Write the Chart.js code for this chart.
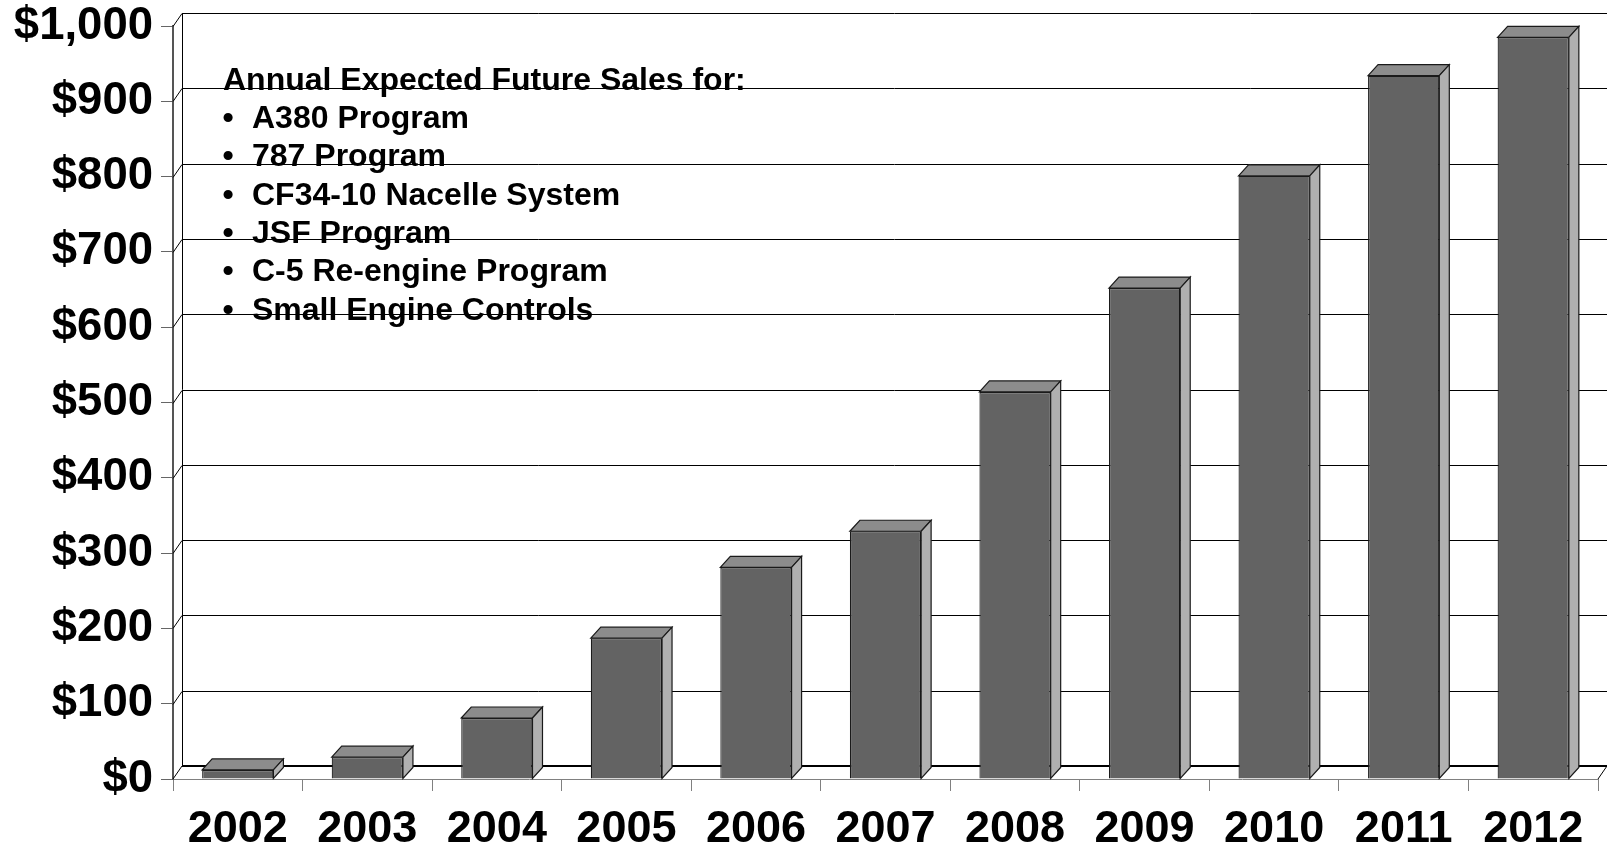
<!DOCTYPE html>
<html>
<head>
<meta charset="utf-8">
<script src="https://cdn.jsdelivr.net/npm/chart.js@4"></script>
<style>
  html, body { margin: 0; padding: 0; background: #fff; }
  canvas { display: block; }
</style>
</head>
<body>
<canvas id="salesChart" width="1607" height="845"></canvas>
<script>
// data ($ millions)
const years = ['2002', '2003', '2004', '2005', '2006', '2007', '2008', '2009', '2010', '2011', '2012'];
const sales = [12, 29, 81, 187, 281, 329, 514, 652, 801, 934, 985];
const noteTitle = 'Annual Expected Future Sales for:';
const noteItems = ['A380 Program', '787 Program', 'CF34-10 Nacelle System', 'JSF Program', 'C-5 Re-engine Program', 'Small Engine Controls'];

const FONT = '"Liberation Sans", Arial, sans-serif';
// depth of the back wall and of the bars (fake 3D)
const WALL_DX = 9, WALL_DY = 13;
const BAR_DX = 10, BAR_DY = 11;

// back wall, gridlines and floor
const wallPlugin = {
  id: 'wall',
  beforeDatasetsDraw(chart) {
    const { ctx, chartArea: a, scales: { y } } = chart;
    ctx.save();
    ctx.strokeStyle = '#000';
    ctx.lineWidth = 1;
    y.ticks.forEach(t => {
      if (t.value === 0) return;
      const py = Math.round(y.getPixelForValue(t.value)) + 0.5;
      ctx.beginPath();
      ctx.moveTo(a.left, py);
      ctx.lineTo(a.left + WALL_DX, py - WALL_DY);
      ctx.lineTo(chart.width, py - WALL_DY);
      ctx.stroke();
    });
    // left edge of the back wall
    const top = Math.round(y.getPixelForValue(1000)) - WALL_DY;
    const bottom = Math.round(y.getPixelForValue(0));
    ctx.beginPath();
    ctx.moveTo(a.left + WALL_DX + 0.5, top);
    ctx.lineTo(a.left + WALL_DX + 0.5, bottom - WALL_DY);
    ctx.stroke();
    // floor
    ctx.lineWidth = 2;
    ctx.beginPath();
    ctx.moveTo(a.left + WALL_DX, bottom - WALL_DY);
    ctx.lineTo(chart.width, bottom - WALL_DY);
    ctx.stroke();
    ctx.lineWidth = 1;
    ctx.beginPath();
    ctx.moveTo(a.left, bottom);
    ctx.lineTo(a.left + WALL_DX, bottom - WALL_DY);
    ctx.moveTo(a.right, bottom);
    ctx.lineTo(a.right + WALL_DX, bottom - WALL_DY);
    ctx.stroke();
    ctx.restore();
  }
};

// top and side faces of the bars
const bar3dPlugin = {
  id: 'bar3d',
  afterDatasetsDraw(chart) {
    const ctx = chart.ctx;
    ctx.save();
    ctx.strokeStyle = '#1a1a1a';
    ctx.lineWidth = 1.2;
    chart.getDatasetMeta(0).data.forEach(bar => {
      const l = bar.x - bar.width / 2, r = bar.x + bar.width / 2;
      ctx.fillStyle = '#8c8c8c';
      ctx.beginPath();
      ctx.moveTo(l, bar.y);
      ctx.lineTo(l + BAR_DX, bar.y - BAR_DY);
      ctx.lineTo(r + BAR_DX, bar.y - BAR_DY);
      ctx.lineTo(r, bar.y);
      ctx.closePath();
      ctx.fill();
      ctx.stroke();
      ctx.fillStyle = '#b0b0b0';
      ctx.beginPath();
      ctx.moveTo(r, bar.y);
      ctx.lineTo(r + BAR_DX, bar.y - BAR_DY);
      ctx.lineTo(r + BAR_DX, bar.base - BAR_DY);
      ctx.lineTo(r, bar.base);
      ctx.closePath();
      ctx.fill();
      ctx.stroke();
    });
    ctx.restore();
  }
};

// text box in the upper left
const notePlugin = {
  id: 'note',
  afterDraw(chart) {
    const ctx = chart.ctx;
    ctx.save();
    ctx.fillStyle = '#000';
    ctx.font = 'bold 32px ' + FONT;
    ctx.textBaseline = 'middle';
    ctx.fillText(noteTitle, 223, 81);
    noteItems.forEach((item, i) => {
      const ty = 81 + 38.3 * (i + 1);
      ctx.textAlign = 'center';
      ctx.fillText('\u2022', 228, ty);
      ctx.textAlign = 'left';
      ctx.fillText(item, 252, ty);
    });
    ctx.restore();
  }
};

new Chart(document.getElementById('salesChart'), {
  type: 'bar',
  data: {
    labels: years,
    datasets: [{
      data: sales,
      backgroundColor: '#636363',
      borderColor: '#1a1a1a',
      borderWidth: 1.2,
      barPercentage: 0.55,
      categoryPercentage: 1
    }]
  },
  options: {
    responsive: false,
    animation: false,
    layout: { padding: { top: 26, right: 9, left: 0, bottom: 0 } },
    plugins: { legend: { display: false }, tooltip: { enabled: false } },
    scales: {
      x: {
        afterFit(scale) {
          scale.height = 66;
          scale.paddingLeft = 0;
          scale.paddingRight = 0;
        },
        grid: { offset: true, drawOnChartArea: false, drawTicks: true, tickLength: 12, color: '#808080' },
        border: { color: '#808080', width: 1 },
        ticks: { color: '#000', padding: 12, font: { family: FONT, size: 45, weight: 'bold' } }
      },
      y: {
        min: 0,
        max: 1000,
        afterFit(scale) {
          scale.width = 173;
          scale.paddingTop = 0;
          scale.paddingBottom = 0;
        },
        grid: { drawOnChartArea: false, drawTicks: true, tickLength: 12, color: '#666' },
        border: { color: '#555', width: 2 },
        ticks: {
          stepSize: 100,
          color: '#000',
          padding: 8,
          font: { family: FONT, size: 45.5, weight: 'bold' },
          callback: v => '$' + v.toLocaleString('en-US')
        }
      }
    }
  },
  plugins: [wallPlugin, bar3dPlugin, notePlugin]
});
</script>
</body>
</html>
